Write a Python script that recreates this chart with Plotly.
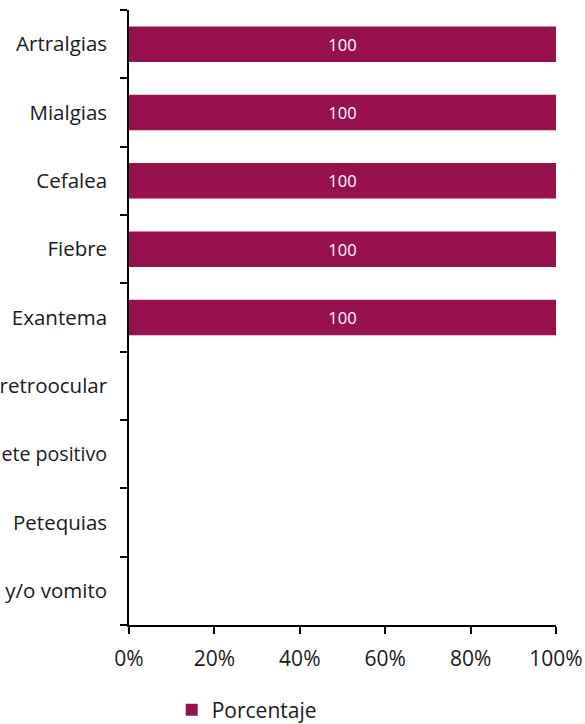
import plotly.graph_objects as go

categories = ["Artralgias", "Mialgias", "Cefalea", "Fiebre", "Exantema",
              "Dolor retroocular", "Torniquete positivo", "Petequias", "Nauseas y/o vomito"]
# tick labels as they appear in the reference (long ones are cut at the left edge)
tick_labels = ["Artralgias", "Mialgias", "Cefalea", "Fiebre", "Exantema",
               "retroocular", "ete positivo", "Petequias", "y/o vomito"]
values = [100, 100, 100, 100, 100, None, None, None, None]
series_name = "Porcentaje"
x_ticks = [0, 20, 40, 60, 80, 100]
x_tick_labels = ["0%", "20%", "40%", "60%", "80%", "100%"]

FONT = "'Open Sans', Lato, sans-serif"
BAR = "#98114f"
FS = 21

# slightly smaller size for the widest fragment so it stays inside the page
shown_labels = [("<span style='font-size:19.6px'>%s</span>" % t) if len(t) > 11 else t
                for t in tick_labels]

fig = go.Figure()
fig.add_trace(go.Bar(
    y=categories, x=values, orientation="h", name=series_name,
    marker=dict(color=BAR, line=dict(width=0)),
    width=0.52,
    text=[("%d" % v) if v is not None else "" for v in values],
    textposition="inside", insidetextanchor="middle",
    textfont=dict(color="white", size=16.5, family=FONT),
    showlegend=True,
))

fig.update_layout(
    width=585, height=724,
    margin=dict(l=129, r=29, t=10, b=99),
    paper_bgcolor="white", plot_bgcolor="white",
    font=dict(family=FONT, size=FS, color="#1a1a1a"),
    legend=dict(orientation="h", x=0.1, xanchor="left",
                yref="container", y=0.0193, yanchor="middle",
                font=dict(size=FS, family=FONT), itemwidth=30),
    uniformtext=dict(mode="show", minsize=10),
)
fig.update_xaxes(
    range=[0, 100], tickvals=x_ticks, ticktext=x_tick_labels,
    showline=True, linecolor="black", linewidth=1.5,
    ticks="outside", ticklen=7, tickcolor="black", tickwidth=1.5,
    showgrid=False, zeroline=False, fixedrange=True, automargin=False,
    ticklabelstandoff=7, tickfont=dict(size=FS),
)
fig.update_yaxes(
    categoryorder="array", categoryarray=categories, autorange="reversed",
    tickvals=categories, ticktext=shown_labels,
    showline=True, linecolor="black", linewidth=1.5,
    ticks="outside", ticklen=7, tickcolor="black", tickwidth=1.5,
    tickson="boundaries", showgrid=False, automargin=False, fixedrange=True,
    ticklabelstandoff=16, tickfont=dict(size=20.5),
)

fig.write_html("out.html", config={"displayModeBar": False},
               post_script="document.body.style.margin='0';")
